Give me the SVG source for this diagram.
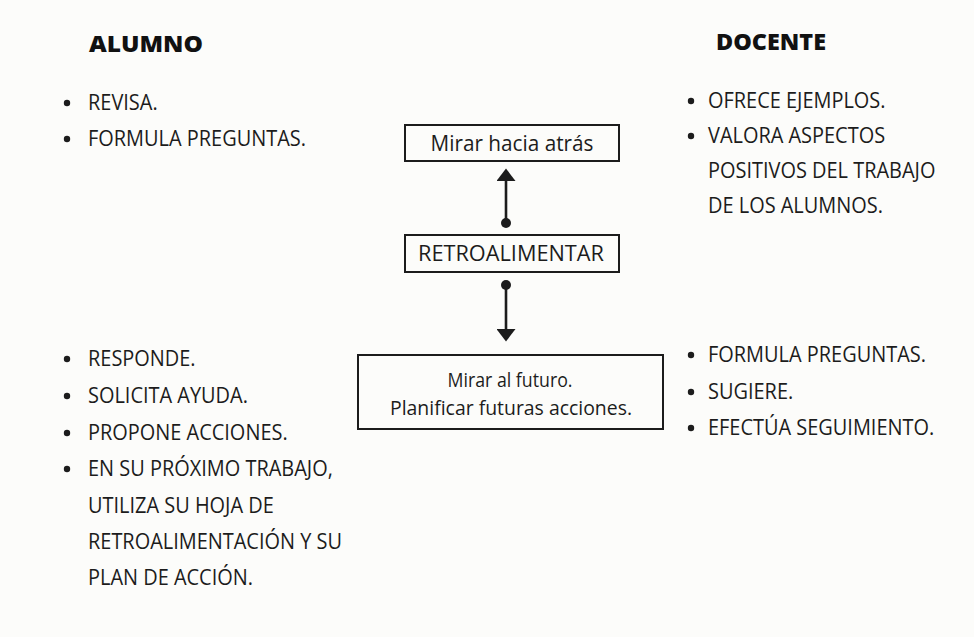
<svg xmlns="http://www.w3.org/2000/svg" width="974" height="637" viewBox="0 0 974 637">
<defs>
<style>
.bg{fill:#fcfcfa}
.t{font-family:"Open Sans","Liberation Sans",sans-serif;font-size:21px;fill:#1c1c1c}
.n{font-size:22px}
.m{font-size:20px}
.h{font-family:"Open Sans","Liberation Sans",sans-serif;font-size:23px;font-weight:800;fill:#111}
.c{text-anchor:middle}
.box{fill:none;stroke:#1c1c1c;stroke-width:2}
.bul{fill:#1c1c1c}
.con{stroke:#1c1c1c;stroke-width:2.6;fill:none}
</style>
<marker id="dot" markerUnits="userSpaceOnUse" markerWidth="12" markerHeight="12" refX="6" refY="6" orient="auto">
<circle cx="6" cy="6" r="5" fill="#1c1c1c"/>
</marker>
<marker id="head" markerUnits="userSpaceOnUse" markerWidth="13" markerHeight="19" refX="0" refY="9.5" orient="auto">
<path d="M0,0 L12.5,9.5 L0,19 z" fill="#1c1c1c"/>
</marker>
</defs>
<rect class="bg" x="0" y="0" width="974" height="637"/>

<g id="connectors">
<path class="con" d="M506,223 L506,181" marker-start="url(#dot)" marker-end="url(#head)"/>
<path class="con" d="M506,285 L506,329" marker-start="url(#dot)" marker-end="url(#head)"/>
</g>

<g id="node-mirar-atras">
<rect class="box" x="405" y="125" width="214" height="36"/>
<text class="t n c" x="512" y="151" textLength="163" lengthAdjust="spacingAndGlyphs">Mirar hacia atrás</text>
</g>

<g id="node-retroalimentar">
<rect class="box" x="405" y="235" width="214" height="37"/>
<text class="t n c" x="511" y="261" textLength="186" lengthAdjust="spacingAndGlyphs">RETROALIMENTAR</text>
</g>

<g id="node-mirar-futuro">
<rect class="box" x="358" y="355" width="305" height="74"/>
<text class="t m c" x="510" y="387" textLength="125" lengthAdjust="spacingAndGlyphs">Mirar al futuro.</text>
<text class="t m c" x="511" y="415" textLength="242" lengthAdjust="spacingAndGlyphs">Planificar futuras acciones.</text>
</g>

<g id="alumno-top">
<text class="h" x="89" y="52" textLength="114" lengthAdjust="spacingAndGlyphs">ALUMNO</text>
<circle class="bul" cx="67" cy="103" r="3.2"/>
<circle class="bul" cx="67" cy="139" r="3.2"/>
<g transform="translate(88,0) scale(0.95,1)">
<text class="t" x="0" y="110">REVISA.</text>
<text class="t" x="0" y="146">FORMULA PREGUNTAS.</text>
</g>
</g>

<g id="docente-top">
<text class="h" x="716" y="50" textLength="110" lengthAdjust="spacingAndGlyphs">DOCENTE</text>
<circle class="bul" cx="691" cy="101" r="3.2"/>
<circle class="bul" cx="691" cy="136" r="3.2"/>
<g transform="translate(708,0) scale(0.95,1)">
<text class="t" x="0" y="108">OFRECE EJEMPLOS.</text>
<text class="t" x="0" y="143">VALORA ASPECTOS</text>
<text class="t" x="0" y="178">POSITIVOS DEL TRABAJO</text>
<text class="t" x="0" y="213">DE LOS ALUMNOS.</text>
</g>
</g>

<g id="alumno-bottom">
<circle class="bul" cx="67" cy="359" r="3.2"/>
<circle class="bul" cx="67" cy="396" r="3.2"/>
<circle class="bul" cx="67" cy="433" r="3.2"/>
<circle class="bul" cx="67" cy="469" r="3.2"/>
<g transform="translate(88,0) scale(0.95,1)">
<text class="t" x="0" y="366">RESPONDE.</text>
<text class="t" x="0" y="403">SOLICITA AYUDA.</text>
<text class="t" x="0" y="440">PROPONE ACCIONES.</text>
<text class="t" x="0" y="476">EN SU PRÓXIMO TRABAJO,</text>
<text class="t" x="0" y="513">UTILIZA SU HOJA DE</text>
<text class="t" x="0" y="549">RETROALIMENTACIÓN Y SU</text>
<text class="t" x="0" y="585">PLAN DE ACCIÓN.</text>
</g>
</g>

<g id="docente-bottom">
<circle class="bul" cx="691" cy="355" r="3.2"/>
<circle class="bul" cx="691" cy="392" r="3.2"/>
<circle class="bul" cx="691" cy="428" r="3.2"/>
<g transform="translate(708,0) scale(0.95,1)">
<text class="t" x="0" y="362">FORMULA PREGUNTAS.</text>
<text class="t" x="0" y="399">SUGIERE.</text>
<text class="t" x="0" y="435">EFECTÚA SEGUIMIENTO.</text>
</g>
</g>
</svg>
